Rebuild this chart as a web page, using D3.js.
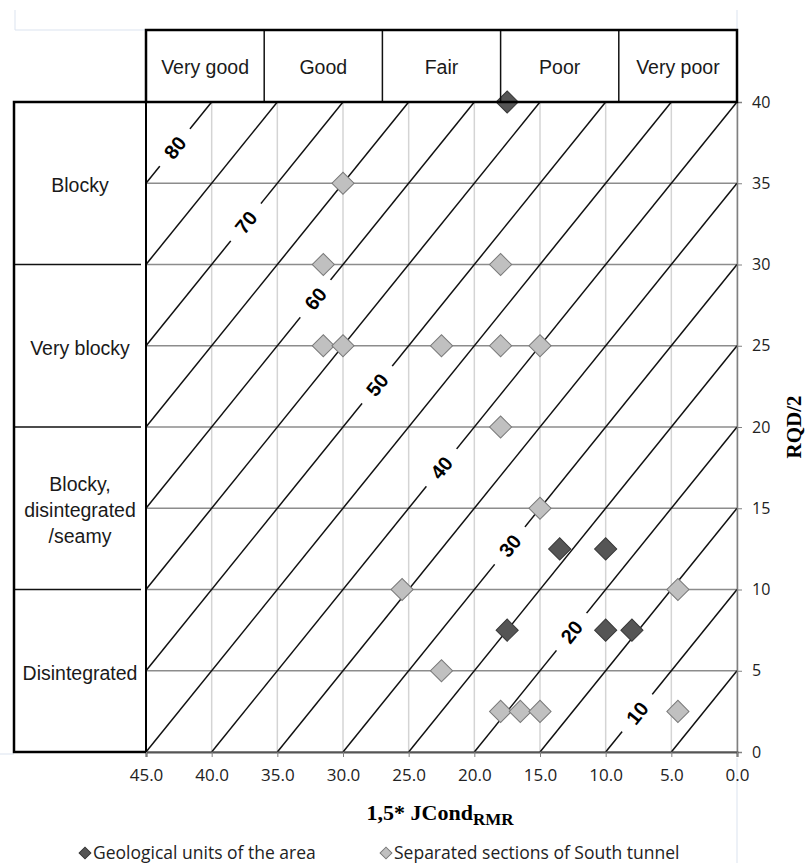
<!DOCTYPE html>
<html>
<head>
<meta charset="utf-8">
<script src="https://cdn.jsdelivr.net/npm/d3@7"></script>
<style>
  body { margin: 0; background: #fff; }
  svg { display: block; }
</style>
</head>
<body>
<svg id="chart" width="807" height="863"></svg>
<script>
// series: x = 1,5*JCond(RMR), y = RQD/2
var geoX = [17.5, 13.5, 10, 17.5, 10, 8];
var geoY = [40, 12.5, 12.5, 7.5, 7.5, 7.5];
var tunnelX = [30, 31.5, 18, 31.5, 30, 22.5, 18, 15, 18, 15, 25.5, 4.5, 22.5, 18, 16.5, 15, 4.5];
var tunnelY = [35, 30, 30, 25, 25, 25, 25, 25, 20, 15, 10, 10, 5, 2.5, 2.5, 2.5, 2.5];

// iso lines x + y = const
var isoValues = [5, 10, 15, 20, 25, 30, 35, 40, 45, 50, 55, 60, 65, 70, 75, 80];
var isoLabels = [10, 20, 30, 40, 50, 60, 70, 80];
var isoLabelY = [2.4, 7.4, 12.7, 17.5, 22.6, 27.9, 32.6, 37.2];

// classification tables
var jointCats = ["Very good", "Good", "Fair", "Poor", "Very poor"];
var jointBounds = [45, 36, 27, 18, 9, 0];
var blockCats = [["Blocky"], ["Very blocky"], ["Blocky,", "disintegrated", "/seamy"], ["Disintegrated"]];
var blockBounds = [40, 30, 20, 10, 0];

var xTicks = [45, 40, 35, 30, 25, 20, 15, 10, 5, 0];
var yTicks = [0, 5, 10, 15, 20, 25, 30, 35, 40];

var legendNames = ["Geological units of the area", "Separated sections of South tunnel"];

var svg = d3.select("svg");
var pLeft = 146, pRight = 737, pTop = 102, pBottom = 752;
var tableLeft = 14, headTop = 30;

var x = d3.scaleLinear().domain([45, 0]).range([pLeft, pRight]);
var y = d3.scaleLinear().domain([0, 40]).range([pBottom, pTop]);

var tickFont = "'Open Sans', sans-serif";
var labelFont = "'Liberation Sans', Arial, sans-serif";
var serifFont = "'Liberation Serif', 'Times New Roman', serif";

// faint sheet cell borders
var faint = "#dbe3ef";
svg.append("line").attr("x1", 15).attr("x2", 15).attr("y1", 10).attr("y2", headTop).attr("stroke", faint);
svg.append("line").attr("x1", 15).attr("x2", pLeft).attr("y1", headTop).attr("y2", headTop).attr("stroke", faint);
svg.append("line").attr("x1", pRight).attr("x2", pRight).attr("y1", 10).attr("y2", headTop).attr("stroke", faint);
svg.append("line").attr("x1", pRight).attr("x2", pRight).attr("y1", pBottom + 6).attr("y2", 863).attr("stroke", faint);
svg.append("line").attr("x1", 0).attr("x2", tableLeft).attr("y1", pBottom + 2).attr("y2", pBottom + 2).attr("stroke", faint);

var g = svg.append("g");

// grid
g.selectAll(".vgrid").data(xTicks).enter().append("line")
    .attr("x1", d => x(d)).attr("x2", d => x(d))
    .attr("y1", pTop).attr("y2", pBottom)
    .attr("stroke", "#d4d4d4").attr("stroke-width", 1.5);

g.selectAll(".hgrid").data(yTicks).enter().append("line")
    .attr("x1", pLeft).attr("x2", pRight)
    .attr("y1", d => y(d)).attr("y2", d => y(d))
    .attr("stroke", "#8c8c8c").attr("stroke-width", 1.5);

// iso lines
g.selectAll(".iso").data(isoValues).enter().append("line")
    .attr("x1", d => x(Math.min(45, d)))
    .attr("y1", d => y(d - Math.min(45, d)))
    .attr("x2", d => x(d - Math.min(40, d)))
    .attr("y2", d => y(Math.min(40, d)))
    .attr("stroke", "#111").attr("stroke-width", 1.5);

// iso labels with a gap in the line
var ang = Math.atan2(y(1) - y(0), x(-1) - x(0)) * 180 / Math.PI;
var lab = g.selectAll(".isolab").data(isoLabels).enter().append("g")
    .attr("transform", (d, i) => "translate(" + x(d - isoLabelY[i]) + "," + y(isoLabelY[i]) + ") rotate(" + ang + ")");
lab.append("rect").attr("x", -24).attr("y", -9).attr("width", 48).attr("height", 18).attr("fill", "#fff");
lab.append("text")
    .attr("text-anchor", "middle").attr("dy", "0.36em")
    .style("font-family", labelFont)
    .style("font-weight", "bold").style("font-size", "20px")
    .text(d => d);

// points
var diamond = d3.symbol(d3.symbolSquare, 245);
g.selectAll(".tun").data(tunnelX).enter().append("path")
    .attr("d", diamond)
    .attr("transform", (d, i) => "translate(" + x(d) + "," + y(tunnelY[i]) + ") rotate(45)")
    .attr("fill", "#c0c0c0").attr("stroke", "#7a7a7a").attr("stroke-width", 1);

g.selectAll(".geo").data(geoX).enter().append("path")
    .attr("d", diamond)
    .attr("transform", (d, i) => "translate(" + x(d) + "," + y(geoY[i]) + ") rotate(45)")
    .attr("fill", "#555").attr("stroke", "#383838").attr("stroke-width", 1);

// axes
var yAxis = svg.append("g")
    .attr("transform", "translate(" + pRight + ",0)")
    .call(d3.axisRight(y).tickValues(yTicks).tickSize(5).tickPadding(10));
yAxis.select(".domain").attr("stroke", "#808080").attr("stroke-width", 1.5);
yAxis.selectAll(".tick line").attr("stroke", "#808080");
yAxis.selectAll("text").style("font-family", tickFont).style("font-size", "16px").attr("fill", "#222");

var xAxis = svg.append("g")
    .attr("transform", "translate(0," + pBottom + ")")
    .call(d3.axisBottom(x).tickValues(xTicks).tickFormat(d3.format(".1f")).tickSize(5).tickPadding(12));
xAxis.select(".domain").attr("stroke", "#555").attr("stroke-width", 2);
xAxis.selectAll(".tick line").attr("stroke", "#808080");
xAxis.selectAll("text").style("font-family", tickFont).style("font-size", "17px").attr("fill", "#222");

// axis titles
var xt = svg.append("text")
    .attr("x", 440).attr("y", 820).attr("text-anchor", "middle")
    .style("font-family", serifFont)
    .style("font-weight", "bold").style("font-size", "22px");
xt.append("tspan").text("1,5* JCond");
xt.append("tspan").attr("dy", 5).style("font-size", "17px").text("RMR");

svg.append("text")
    .attr("transform", "translate(794," + y(20) + ") rotate(-90)")
    .attr("text-anchor", "middle").attr("dy", "0.35em")
    .style("font-family", serifFont)
    .style("font-weight", "bold").style("font-size", "21px")
    .text("RQD/2");

// header table (joint condition)
var head = svg.append("g");
head.selectAll(".hc").data(jointCats).enter().append("text")
    .attr("x", (d, i) => (x(jointBounds[i]) + x(jointBounds[i + 1])) / 2)
    .attr("y", 67).attr("dy", "0.35em").attr("text-anchor", "middle")
    .style("font-family", labelFont).style("font-size", "19.5px").attr("fill", "#1a1a1a")
    .text(d => d);
head.selectAll(".hd").data(jointBounds.slice(1, -1)).enter().append("line")
    .attr("x1", d => x(d)).attr("x2", d => x(d))
    .attr("y1", headTop).attr("y2", pTop)
    .attr("stroke", "#111").attr("stroke-width", 1.5);
head.append("rect")
    .attr("x", pLeft).attr("y", headTop).attr("width", pRight - pLeft).attr("height", pTop - headTop)
    .attr("fill", "none").attr("stroke", "#000").attr("stroke-width", 2.5);

// left table (block size)
var side = svg.append("g");
side.selectAll(".sd").data(blockBounds.slice(1, -1)).enter().append("line")
    .attr("x1", tableLeft).attr("x2", pLeft - 5)
    .attr("y1", d => y(d)).attr("y2", d => y(d))
    .attr("stroke", "#111").attr("stroke-width", 1.5);
var st = side.selectAll(".sc").data(blockCats).enter().append("text")
    .attr("text-anchor", "middle")
    .style("font-family", labelFont).style("font-size", "19.5px").attr("fill", "#1a1a1a");
st.selectAll("tspan").data((d, i) => d.map(t => ({ t: t, n: d.length, i: i }))).enter().append("tspan")
    .attr("x", (tableLeft + pLeft) / 2)
    .attr("y", (d, j) => (y(blockBounds[d.i]) + y(blockBounds[d.i + 1])) / 2 + 2 + (j - (d.n - 1) / 2) * 26)
    .attr("dy", "0.35em")
    .text(d => d.t);
side.append("path")
    .attr("d", "M" + pLeft + "," + pTop + "H" + tableLeft + "V" + pBottom + "H" + pLeft)
    .attr("fill", "none").attr("stroke", "#000").attr("stroke-width", 2.5);
side.append("line")
    .attr("x1", pLeft).attr("x2", pLeft).attr("y1", pTop).attr("y2", pBottom)
    .attr("stroke", "#000").attr("stroke-width", 2);

// legend
var legend = svg.append("g").attr("transform", "translate(0,853)");
var legX = [85, 386];
var legFill = ["#555", "#c0c0c0"];
var legStroke = ["#383838", "#7a7a7a"];
legendNames.forEach(function (name, i) {
    legend.append("path")
        .attr("d", d3.symbol(d3.symbolSquare, 70))
        .attr("transform", "translate(" + legX[i] + ",0) rotate(45)")
        .attr("fill", legFill[i]).attr("stroke", legStroke[i]);
    legend.append("text")
        .attr("x", legX[i] + 8).attr("dy", "0.35em")
        .style("font-family", tickFont).style("font-size", "17.5px").attr("fill", "#222")
        .text(name);
});
</script>
</body>
</html>
